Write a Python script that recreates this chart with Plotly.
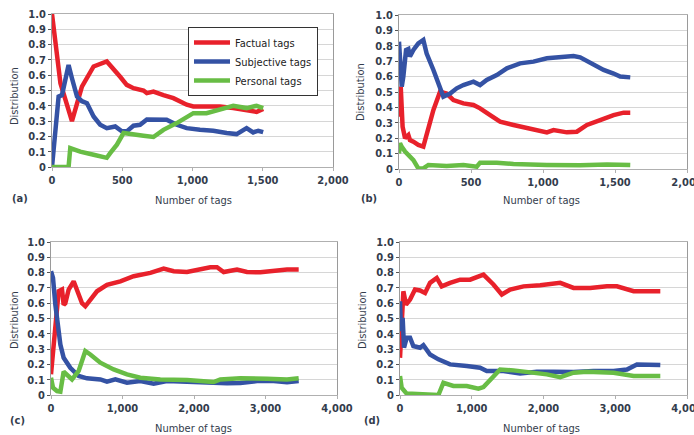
import plotly.graph_objects as go

# ---------------- data ----------------
a_fact_x = [0, 60, 142, 213, 296, 390, 485, 532, 580, 651, 675, 722, 793, 864, 959, 1006, 1100, 1195, 1290, 1385, 1456, 1503]
a_fact_y = [1.0, 0.548, 0.30, 0.526, 0.657, 0.69, 0.59, 0.537, 0.515, 0.50, 0.483, 0.493, 0.47, 0.45, 0.407, 0.396, 0.396, 0.396, 0.385, 0.37, 0.36, 0.38]
a_subj_x = [0, 24, 47, 71, 118, 142, 178, 213, 249, 296, 343, 390, 450, 497, 532, 580, 627, 675, 745, 816, 888, 959, 1053, 1148, 1243, 1314, 1385, 1432, 1468, 1503]
a_subj_y = [0.0, 0.265, 0.46, 0.47, 0.667, 0.58, 0.46, 0.43, 0.417, 0.33, 0.276, 0.254, 0.265, 0.233, 0.233, 0.27, 0.276, 0.31, 0.313, 0.309, 0.276, 0.254, 0.243, 0.237, 0.222, 0.215, 0.254, 0.226, 0.237, 0.228]
a_pers_x = [0, 118, 130, 201, 296, 390, 414, 462, 509, 580, 651, 722, 793, 888, 959, 1006, 1100, 1195, 1290, 1385, 1456, 1503]
a_pers_y = [0.0, 0.0, 0.124, 0.10, 0.08, 0.06, 0.09, 0.146, 0.222, 0.21, 0.204, 0.196, 0.243, 0.287, 0.33, 0.352, 0.352, 0.374, 0.40, 0.385, 0.40, 0.385]

b_fact_x = [0, 12, 25, 42, 65, 76, 100, 134, 169, 204, 239, 285, 331, 378, 447, 517, 563, 633, 702, 795, 888, 980, 1027, 1073, 1166, 1235, 1305, 1397, 1490, 1560, 1606]
b_fact_y = [0.34, 0.535, 0.275, 0.2, 0.22, 0.188, 0.177, 0.156, 0.145, 0.275, 0.383, 0.502, 0.49, 0.448, 0.426, 0.416, 0.394, 0.35, 0.307, 0.286, 0.264, 0.249, 0.238, 0.253, 0.238, 0.242, 0.286, 0.318, 0.35, 0.366, 0.366]
b_subj_x = [0, 7, 19, 30, 49, 65, 76, 100, 134, 169, 192, 239, 285, 308, 355, 401, 447, 517, 563, 609, 679, 749, 841, 934, 1027, 1119, 1212, 1258, 1351, 1421, 1490, 1536, 1606]
b_subj_y = [0.827, 0.665, 0.535, 0.6, 0.773, 0.78, 0.73, 0.773, 0.816, 0.838, 0.75, 0.643, 0.513, 0.47, 0.49, 0.524, 0.545, 0.567, 0.545, 0.578, 0.61, 0.654, 0.686, 0.697, 0.719, 0.725, 0.734, 0.725, 0.675, 0.643, 0.62, 0.60, 0.595]
b_pers_x = [0, 7, 19, 42, 100, 134, 169, 204, 331, 447, 540, 563, 679, 795, 1027, 1258, 1444, 1606]
b_pers_y = [0.10, 0.167, 0.145, 0.113, 0.058, 0.004, 0.004, 0.026, 0.02, 0.026, 0.015, 0.041, 0.041, 0.032, 0.026, 0.024, 0.03, 0.026]

c_fact_x = [0, 37, 75, 107, 154, 177, 200, 247, 317, 364, 434, 480, 550, 643, 783, 970, 1156, 1296, 1389, 1576, 1716, 1902, 2089, 2228, 2322, 2415, 2601, 2741, 2928, 3114, 3301, 3464]
c_fact_y = [0.135, 0.35, 0.504, 0.678, 0.689, 0.59, 0.60, 0.689, 0.743, 0.689, 0.60, 0.58, 0.624, 0.678, 0.72, 0.743, 0.776, 0.787, 0.798, 0.826, 0.809, 0.804, 0.82, 0.835, 0.835, 0.804, 0.82, 0.804, 0.802, 0.813, 0.82, 0.82]
c_subj_x = [0, 28, 61, 93, 131, 177, 270, 387, 503, 690, 783, 900, 1063, 1249, 1436, 1622, 1902, 2182, 2461, 2648, 2881, 3114, 3301, 3464]
c_subj_y = [0.809, 0.765, 0.59, 0.44, 0.33, 0.243, 0.178, 0.124, 0.109, 0.102, 0.087, 0.102, 0.08, 0.091, 0.074, 0.091, 0.085, 0.085, 0.076, 0.078, 0.091, 0.091, 0.083, 0.091]
c_pers_x = [0, 28, 84, 131, 177, 224, 294, 387, 480, 550, 690, 876, 1063, 1249, 1529, 1902, 2182, 2275, 2368, 2648, 3021, 3301, 3464]
c_pers_y = [0.113, 0.048, 0.026, 0.022, 0.152, 0.135, 0.102, 0.157, 0.287, 0.265, 0.211, 0.167, 0.135, 0.113, 0.102, 0.098, 0.091, 0.085, 0.102, 0.109, 0.107, 0.102, 0.109]

d_fact_x = [0, 23, 47, 84, 140, 209, 279, 349, 419, 512, 581, 698, 837, 977, 1116, 1163, 1302, 1419, 1535, 1721, 1953, 2233, 2419, 2651, 2884, 3023, 3256, 3628]
d_fact_y = [0.243, 0.504, 0.678, 0.59, 0.624, 0.689, 0.683, 0.667, 0.733, 0.765, 0.71, 0.733, 0.754, 0.754, 0.776, 0.787, 0.722, 0.657, 0.689, 0.71, 0.717, 0.733, 0.70, 0.70, 0.71, 0.71, 0.678, 0.678]
d_subj_x = [0, 14, 37, 56, 93, 140, 186, 279, 326, 419, 535, 698, 930, 1116, 1209, 1442, 1674, 1907, 2140, 2419, 2698, 2977, 3163, 3302, 3628]
d_subj_y = [0.613, 0.417, 0.504, 0.309, 0.374, 0.374, 0.32, 0.309, 0.326, 0.265, 0.233, 0.2, 0.189, 0.178, 0.157, 0.157, 0.141, 0.152, 0.152, 0.15, 0.157, 0.157, 0.167, 0.20, 0.196]
d_pers_x = [0, 23, 93, 279, 419, 535, 605, 744, 930, 1093, 1163, 1302, 1395, 1581, 1860, 2047, 2233, 2419, 2605, 2977, 3256, 3628]
d_pers_y = [0.124, 0.048, 0.009, 0.004, 0.004, 0.0, 0.08, 0.059, 0.059, 0.041, 0.052, 0.124, 0.167, 0.161, 0.146, 0.135, 0.117, 0.146, 0.152, 0.146, 0.124, 0.124]

series_names = ["Factual tags", "Subjective tags", "Personal tags"]
y_ticks = [0, 0.1, 0.2, 0.3, 0.4, 0.5, 0.6, 0.7, 0.8, 0.9, 1.0]
y_tick_text = ["0", "0.1", "0.2", "0.3", "0.4", "0.5", "0.6", "0.7", "0.8", "0.9", "1.0"]
x_ticks_small = [0, 500, 1000, 1500, 2000]
x_text_small = ["0", "500", "1,000", "1,500", "2,000"]
x_ticks_big = [0, 1000, 2000, 3000, 4000]
x_text_big = ["0", "1,000", "2,000", "3,000", "4,000"]
panel_labels = ["(a)", "(b)", "(c)", "(d)"]
x_title = "Number of tags"
y_title = "Distribution"

# ---------------- style ----------------
W, H = 694, 435
COLORS = ["#e8212b", "#3452a4", "#68bd45"]
FONT = "DejaVu Sans Condensed, Liberation Sans Narrow, Arial Narrow, sans-serif"
TXT = "#333c4c"

def px_dom_x(x0, x1):
    return [x0 / W, x1 / W]

def px_dom_y(y0, y1):
    return [1 - y1 / H, 1 - y0 / H]

panels = [
    dict(data=[(a_fact_x, a_fact_y), (a_subj_x, a_subj_y), (a_pers_x, a_pers_y)],
         px=(52, 333, 14, 167), xmax=2000, ticks=(x_ticks_small, x_text_small),
         lab=(10, 199), xt=(193, 200), yt=(14, 96)),
    dict(data=[(b_fact_x, b_fact_y), (b_subj_x, b_subj_y), (b_pers_x, b_pers_y)],
         px=(399, 687, 15, 169), xmax=2000, ticks=(x_ticks_small, x_text_small),
         lab=(359, 199), xt=(541, 200), yt=(360, 92)),
    dict(data=[(c_fact_x, c_fact_y), (c_subj_x, c_subj_y), (c_pers_x, c_pers_y)],
         px=(51, 337, 242, 395), xmax=4000, ticks=(x_ticks_big, x_text_big),
         lab=(8, 420), xt=(193, 428), yt=(14, 320)),
    dict(data=[(d_fact_x, d_fact_y), (d_subj_x, d_subj_y), (d_pers_x, d_pers_y)],
         px=(400, 687, 242, 395), xmax=4000, ticks=(x_ticks_big, x_text_big),
         lab=(362, 420), xt=(541, 428), yt=(362, 320)),
]

fig = go.Figure()
layout = dict(
    width=W, height=H, margin=dict(l=0, r=0, t=0, b=0),
    paper_bgcolor="white", plot_bgcolor="white",
    font=dict(family=FONT, color=TXT, size=11),
    showlegend=True,
    legend=dict(x=188 / W, y=1 - 27 / H, xanchor="left", yanchor="top",
                bgcolor="white", bordercolor="#333333", borderwidth=1,
                font=dict(family=FONT, size=11, color="#222222"),
                itemwidth=36, tracegroupgap=0),
)

annotations = []
for i, p in enumerate(panels):
    n = "" if i == 0 else str(i + 1)
    xa, ya = "x" + n, "y" + n
    for k, (xs, ys) in enumerate(p["data"]):
        fig.add_trace(go.Scatter(
            x=xs, y=ys, mode="lines", name=series_names[k],
            line=dict(color=COLORS[k], width=4.5),
            xaxis=xa, yaxis=ya, showlegend=(i == 0), hoverinfo="skip"))
    tv, tt = p["ticks"]
    x0, x1, y0, y1 = p["px"]
    layout["xaxis" + n] = dict(
        domain=px_dom_x(x0, x1), range=[0, p["xmax"]], anchor=ya, automargin=False,
        tickvals=tv, ticktext=tt, showgrid=False, zeroline=False,
        showline=True, linecolor="#b0b0b0", linewidth=1, mirror=True,
        ticks="outside", ticklen=3, tickcolor="#b0b0b0", ticklabeloverflow="allow",
        tickfont=dict(family=FONT, size=11, color=TXT, weight="bold"),
    )
    layout["yaxis" + n] = dict(
        domain=px_dom_y(y0, y1), range=[0, 1.0], anchor=xa, automargin=False,
        tickvals=y_ticks, ticktext=y_tick_text,
        showgrid=True, gridcolor="#d6d6d6", gridwidth=1, zeroline=False,
        showline=True, linecolor="#9a9a9a", linewidth=1, mirror=True,
        ticks="outside", ticklen=3, tickcolor="#555555",
        tickfont=dict(family=FONT, size=11, color=TXT, weight="bold"),
    )
    lx, ly = p["lab"]
    annotations.append(dict(text="<b>" + panel_labels[i] + "</b>", x=lx / W, y=1 - ly / H,
                            xref="paper", yref="paper", xanchor="left", yanchor="middle",
                            showarrow=False, font=dict(family=FONT, size=11, color=TXT)))
    tx, ty = p["xt"]
    annotations.append(dict(text=x_title, x=tx / W, y=1 - ty / H, xref="paper", yref="paper",
                            xanchor="center", yanchor="middle", showarrow=False,
                            font=dict(family=FONT, size=11, color=TXT)))
    yx, yy = p["yt"]
    annotations.append(dict(text=y_title, x=yx / W, y=1 - yy / H, xref="paper", yref="paper",
                            xanchor="center", yanchor="middle", showarrow=False, textangle=-90,
                            font=dict(family=FONT, size=11, color=TXT)))
layout["annotations"] = annotations
fig.update_layout(**layout)

fig.write_html("out.html", config={"displayModeBar": False},
               post_script="document.body.style.margin='0';document.body.style.overflow='hidden';")
